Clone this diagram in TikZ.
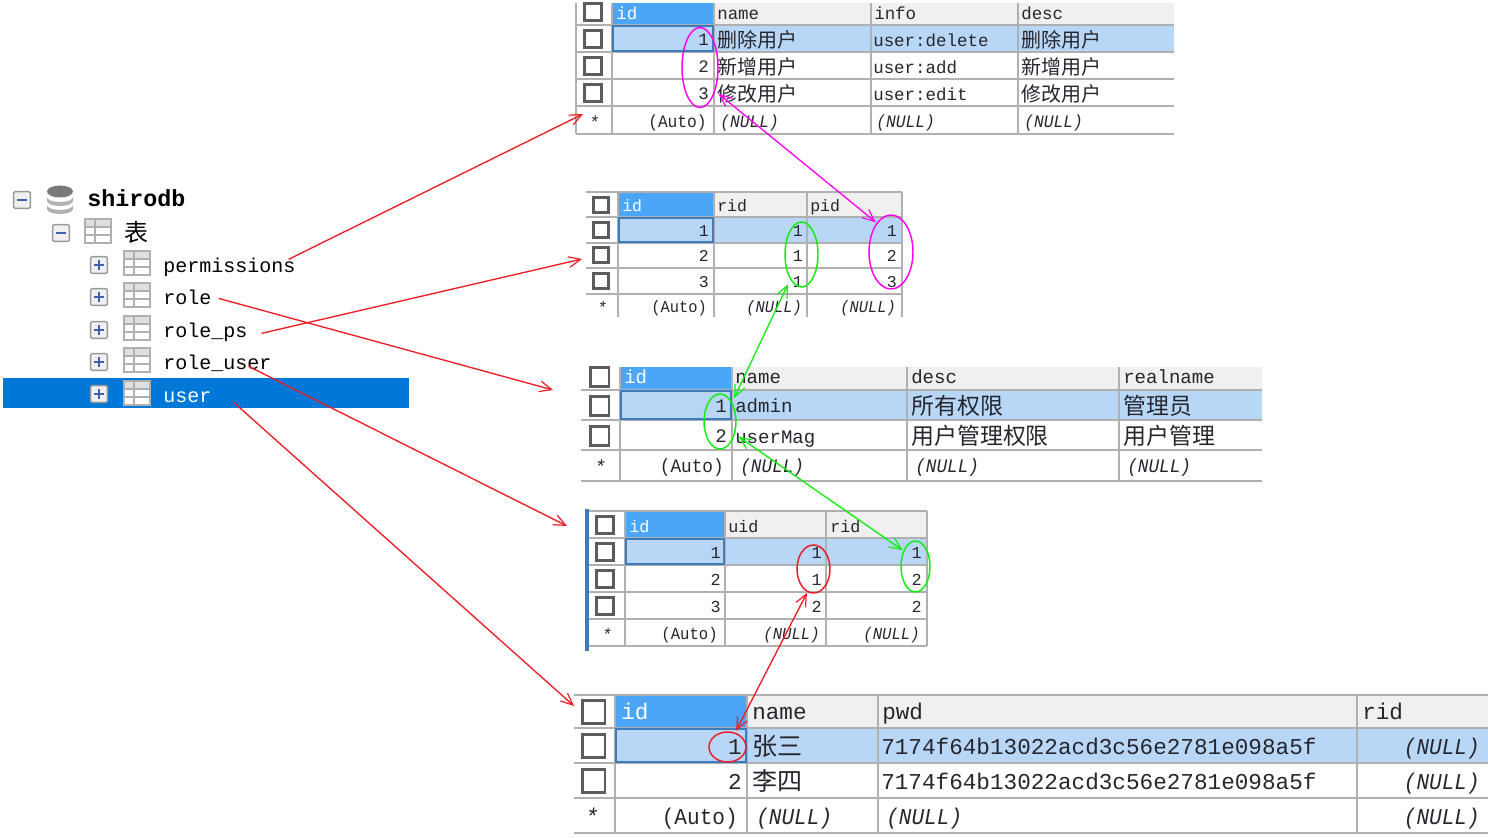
\documentclass[tikz,border=0pt]{standalone}
\usepackage{fontspec}
\usepackage{graphicx}
\usetikzlibrary{arrows.meta,shapes.geometric}
\setmainfont{Liberation Mono}
\newfontfamily\cjk{Noto Sans CJK SC}
\definecolor{gridgray}{HTML}{B0B0B0}
\definecolor{headbg}{HTML}{F0F0F0}
\definecolor{idhead}{HTML}{4BA6F8}
\definecolor{selbg}{HTML}{B8D6F5}
\definecolor{idedge}{HTML}{3A7CBE}
\definecolor{boxedge}{HTML}{5C5C5C}
\definecolor{treeblue}{HTML}{0078D7}
\definecolor{signblue}{HTML}{3F5FB0}
\definecolor{inkdark}{HTML}{26262E}
\definecolor{linkred}{HTML}{EE1C25}
\definecolor{linkmag}{HTML}{FF00F0}
\definecolor{linkgreen}{HTML}{10EE10}
\tikzset{
  gridline/.style={draw=gridgray,line width=1.5pt},
  idcell/.style={draw=idedge,line width=2.1pt},
  checkbox/.style={draw=boxedge,fill=white,line width=2pt,minimum size=\boxsize,inner sep=0pt},
  lab/.style={font=\tfont,text=inkdark,inner sep=0pt,yshift=-\tdrop},
  hd/.style={lab,anchor=mid west},
  hdid/.style={lab,anchor=mid west,text=white},
  tl/.style={lab,anchor=mid west},
  tr/.style={lab,anchor=mid east},
  star/.style={lab,anchor=mid,yshift=-1.5pt},
  ring/.style={ellipse,draw=#1,line width=1.1pt,inner sep=0pt},
  link/.style={draw=#1,line width=1pt,>={Straight Barb[length=9pt,width=8pt,line width=0.9pt]}},
  treelab/.style={font=\fontsize{15}{17}\selectfont,text=black,inner sep=0pt,anchor=mid west,yshift=-3pt},
  treebox/.style={draw=gray!80,fill=headbg,rounded corners=1pt,line width=1.1pt,minimum size=12.5pt,inner sep=0pt},
  treesign/.style={draw=signblue,line width=1.1pt},
  iconline/.style={draw=gridgray,line width=1.1pt},
  dbband/.style={fill=gray!60}
}
\newcommand{\nul}{\scalebox{0.93}[1]{\textit{(NULL)}}}
\newcommand{\autoid}{\scalebox{0.93}[1]{(Auto)}}
\newcommand{\zh}[1]{\raisebox{-1.5pt}{\cjk\fontsize{\csize}{\csize}\selectfont #1}}
% Grid, header, selected row and row checkboxes of one result table
\newcommand{\drawtable}{%
  \fill[headbg] (\xb,\ya) rectangle (\xe,\yb);
  \fill[idhead] (\xb,\ya) rectangle (\xc,\yb);
  \fill[selbg] (\xb,\yb) rectangle (\xe,\yc);
  \foreach \v in \cols {\draw[gridline] (\v,\ya) -- (\v,\yz);}
  \foreach \h in \rows {\draw[gridline] (\xa,\h) -- (\xe,\h);}
  \draw[idcell] (\xb+1,\yb+1) rectangle (\xc-1,\yc-1);
  \foreach \c in \boxes {\node[checkbox] (\tname-box-\c) at ({(\xa+\xb)/2-1},\c) {};}
}
% Small table glyph of the object tree
\newcommand{\ticon}[2]{%
  \fill[headbg!85!gray] (#1-13,#2-12) rectangle (#1+13,#2-4);
  \draw[iconline] (#1-13,#2-12) rectangle (#1+13,#2+12);
  \draw[iconline] (#1-13,#2-4) -- (#1+13,#2-4);
  \draw[iconline] (#1-13,#2+4) -- (#1+13,#2+4);
  \draw[iconline] (#1-3,#2-12) -- (#1-3,#2+12);
}
\newcommand{\expander}[4]{% name, x, y, 1 when a plus sign
  \node[treebox] (#1) at (#2,#3) {};
  \draw[treesign] ([shift={(-5,0)}]#1.center) -- ([shift={(5,0)}]#1.center);
  \ifnum#4=1 \draw[treesign] ([shift={(0,-5)}]#1.center) -- ([shift={(0,5)}]#1.center);\fi
}
% One lower band of the database glyph
\newcommand{\dbband}[1]{%
  \fill[dbband] (47,#1) arc[start angle=180,end angle=0,x radius=13,y radius=5] -- (73,#1+4)
    arc[start angle=0,end angle=180,x radius=13,y radius=5] -- cycle;
}
\begin{document}
\begin{tikzpicture}[x=0.75pt,y=-0.75pt]
\useasboundingbox[fill=white] (0,0) rectangle (1488,838);
\def\tdrop{2pt}

% permissions
\def\tname{perm}\def\boxsize{12.5pt}\def\csize{15}
\def\tfont{\fontsize{13.1}{15}\selectfont}
\def\xa{576}\def\xb{612}\def\xc{714}\def\xe{1174}
\def\ya{3}\def\yb{25}\def\yc{52}\def\yz{134}
\def\cols{576,612,714,871,1018}\def\rows{25,52,79,106,134}\def\boxes{12,39,66,93}
\drawtable
\node[hdid] (p-id) at (616,13) {id};
\foreach \n/\x/\y/\t in {a/717/13/name,b/874/13/info,c/1021/13/desc,
  d/717/39/\zh{删除用户},e/873/40/user:delete,f/1021/39/\zh{删除用户},
  g/717/66/\zh{新增用户},h/873/67/user:add,i/1021/66/\zh{新增用户},
  j/717/93/\zh{修改用户},k/873/94/user:edit,l/1021/93/\zh{修改用户},
  m/720/121/\nul,n/876/121/\nul,o/1024/121/\nul}
  {\node[tl] (p-\n) at (\x,\y) {\t};}
\foreach \n/\y/\t in {a/39/1,b/66/2,c/93/3} {\node[tr] (p-r\n) at (709,\y) {\t};}
\node[tr] (p-auto) at (707,121) {\autoid};
\node[star] (p-star) at (594,120) {\textit{*}};

% role_ps
\def\tname{rp}\def\boxsize{11.5pt}
\def\tfont{\fontsize{12.4}{15}\selectfont}
\def\xa{586}\def\xb{618}\def\xc{714}\def\xe{902}
\def\ya{192}\def\yb{217}\def\yc{243}\def\yz{317}
\def\cols{618,714,807,902}\def\rows{192,217,243,268,294}\def\boxes{205,230,255,281}
\drawtable
\node[hdid] (r-id) at (622,205) {id};
\node[hd] (r-rid) at (717,205) {rid};
\node[hd] (r-pid) at (810,205) {pid};
\foreach \n/\y/\p/\q/\s in {a/230/1/1/1,b/255/2/1/2,c/281/3/1/3}{
  \node[tr] (r-\n1) at (709,\y) {\p};
  \node[tr] (r-\n2) at (803,\y) {\q};
  \node[tr] (r-\n3) at (897,\y) {\s};
}
\node[tr] (r-auto) at (707,306) {\autoid};
\node[tr] (r-n1) at (802,306) {\nul};
\node[tr] (r-n2) at (896,306) {\nul};
\node[star] (r-star) at (602,305) {\textit{*}};

% role
\def\tname{ro}\def\boxsize{14pt}\def\csize{17.2}
\def\tfont{\fontsize{14.3}{16}\selectfont}
\def\xa{581}\def\xb{620}\def\xc{732}\def\xe{1262}
\def\ya{367}\def\yb{390}\def\yc{420}\def\yz{481}
\def\cols{620,732,907,1119}\def\rows{390,420,450,481}\def\boxes{377,406,436}
\drawtable
\node[hdid] (o-id) at (624,377) {id};
\foreach \n/\x/\y/\t in {a/735/377/name,b/911/377/desc,c/1123/377/realname,
  d/735/406/admin,e/911/406/\zh{所有权限},f/1123/406/\zh{管理员},
  g/735/437/userMag,h/911/436/\zh{用户管理权限},i/1123/436/\zh{用户管理},
  j/740/466/\nul,k/915/466/\nul,l/1127/466/\nul}
  {\node[tl] (o-\n) at (\x,\y) {\t};}
\node[tr] (o-r1) at (727,406) {1};
\node[tr] (o-r2) at (727,436) {2};
\node[tr] (o-auto) at (724,466) {\autoid};
\node[star] (o-star) at (600,465) {\textit{*}};

% role_user
\def\tname{ru}\def\boxsize{12.5pt}
\def\tfont{\fontsize{12.6}{15}\selectfont}
\def\xa{587}\def\xb{625}\def\xc{725}\def\xe{927}
\def\ya{511}\def\yb{538}\def\yc{565}\def\yz{646}
\def\cols{625,725,826,927}\def\rows{511,538,565,592,619,646}\def\boxes{525,552,579,606}
\drawtable
\fill[idedge] (585,509) rectangle (589,651);
\node[hdid] (u-id) at (629,526) {id};
\node[hd] (u-uid) at (728,526) {uid};
\node[hd] (u-rid) at (830,526) {rid};
\foreach \n/\y/\p/\q/\s in {a/552/1/1/1,b/579/2/1/2,c/606/3/2/2}{
  \node[tr] (u-\n1) at (721,\y) {\p};
  \node[tr] (u-\n2) at (822,\y) {\q};
  \node[tr] (u-\n3) at (922,\y) {\s};
}
\node[tr] (u-auto) at (718,633) {\autoid};
\node[tr] (u-n1) at (820,633) {\nul};
\node[tr] (u-n2) at (920,633) {\nul};
\node[star] (u-star) at (607,632) {\textit{*}};

% user
\def\tdrop{3pt}
\def\tname{us}\def\boxsize{17pt}\def\csize{18.8}
\def\tfont{\fontsize{17}{19}\selectfont}
\def\xa{574}\def\xb{615}\def\xc{747}\def\xe{1488}
\def\ya{695}\def\yb{728}\def\yc{763}\def\yz{833}
\def\cols{615,747,878,1357}\def\rows{695,728,763,798,833}\def\boxes{712,746,781}
\drawtable
\node[hdid] (s-id) at (621,712) {id};
\foreach \n/\x/\y/\t in {a/752/712/name,b/882/712/pwd,c/1362/712/rid,
  d/752/746/\zh{张三},e/881/747/7174f64b13022acd3c56e2781e098a5f,
  f/752/781/\zh{李四},g/881/782/7174f64b13022acd3c56e2781e098a5f,
  h/756/817/\nul,i/886/817/\nul}
  {\node[tl] (s-\n) at (\x,\y) {\t};}
\node[tr] (s-r1) at (742,747) {1};
\node[tr] (s-r2) at (742,782) {2};
\node[tr] (s-auto) at (738,817) {\autoid};
\foreach \n/\y in {a/747,b/782,c/817} {\node[tr] (s-n\n) at (1480,\y) {\nul};}
\node[star] (s-star) at (592,815) {\textit{*}};

% object tree
\fill[treeblue] (3,378) rectangle (409,408);
\expander{bx-db}{22}{200}{0}
\expander{bx-tb}{61}{233}{0}
\dbband{197}
\dbband{205}
\fill[gray!95!black] (60,191.5) ellipse (13 and 6);
\node[treelab,font=\fontsize{17.5}{19}\selectfont\bfseries] (t-db) at (87,199) {shirodb};
\ticon{98}{231}
\node[treelab,font=\cjk\fontsize{18}{18}\selectfont,yshift=-1.5pt] (t-tb) at (124,232) {表};
\foreach \k/\y/\t in {perm/265/permissions,role/297/role,ps/330/role\_ps,ru/362/role\_user}{
  \expander{bx-\k}{99}{\y}{1}
  \ticon{137}{\y-2}
  \node[treelab] (t-\k) at (163,\y) {\t};
}
\expander{bx-user}{99}{394}{1}
\fill[white] (124,380) rectangle (150,406);
\ticon{137}{393}
\node[treelab,text=white] (t-user) at (163,395) {user};

% key rings
\node[ring=linkmag,minimum width=27pt,minimum height=60pt] (mag1) at (700,67.5) {};
\node[ring=linkmag,minimum width=33pt,minimum height=55.5pt] (mag2) at (891,252) {};
\node[ring=linkgreen,minimum width=24.75pt,minimum height=48.75pt] (grn1) at (801.5,254.5) {};
\node[ring=linkgreen,minimum width=24pt,minimum height=41.25pt] (grn2) at (720,421.5) {};
\node[ring=linkgreen,minimum width=21.75pt,minimum height=38.25pt] (grn3) at (915.5,566.5) {};
\node[ring=linkred,minimum width=24.75pt,minimum height=36pt] (red1) at (813.5,569) {};
\node[ring=linkred,minimum width=27.75pt,minimum height=22.5pt] (red2) at (727.5,747) {};

% table pointers from the tree
\coordinate (to-perm) at (583,114);
\coordinate (to-ps) at (582,259);
\coordinate (to-role) at (553,390);
\coordinate (to-ru) at (567,526);
\coordinate (to-user) at (574,706);
\draw[link=linkred,->] ([shift={(-7,-8)}]t-perm.east) -- (to-perm);
\draw[link=linkred,->] ([shift={(14,1)}]t-ps.east) -- (to-ps);
\draw[link=linkred,->] ([shift={(7,1)}]t-role.east) -- (to-role);
\draw[link=linkred,->] ([shift={(-23,3)}]t-ru.east) -- (to-ru);
\draw[link=linkred,->] ([shift={(22,5)}]t-user.east) -- (to-user);

% foreign key relations
\draw[link=linkmag,<->] ([shift={(3,4)}]mag1.-55) -- ([shift={(-0.5,-1)}]mag2.117);
\draw[link=linkgreen,<->] ([shift={(-2,5)}]grn1.245) -- ([shift={(2,-4)}]grn2.58);
\draw[link=linkgreen,<->] ([shift={(3.5,3)}]grn2.-39) -- ([shift={(-0.5,-1)}]grn3.129);
\draw[link=linkred,<->] ([shift={(0,1)}]red1.254) -- ([shift={(1,-2)}]red2.62);
\end{tikzpicture}
\end{document}
